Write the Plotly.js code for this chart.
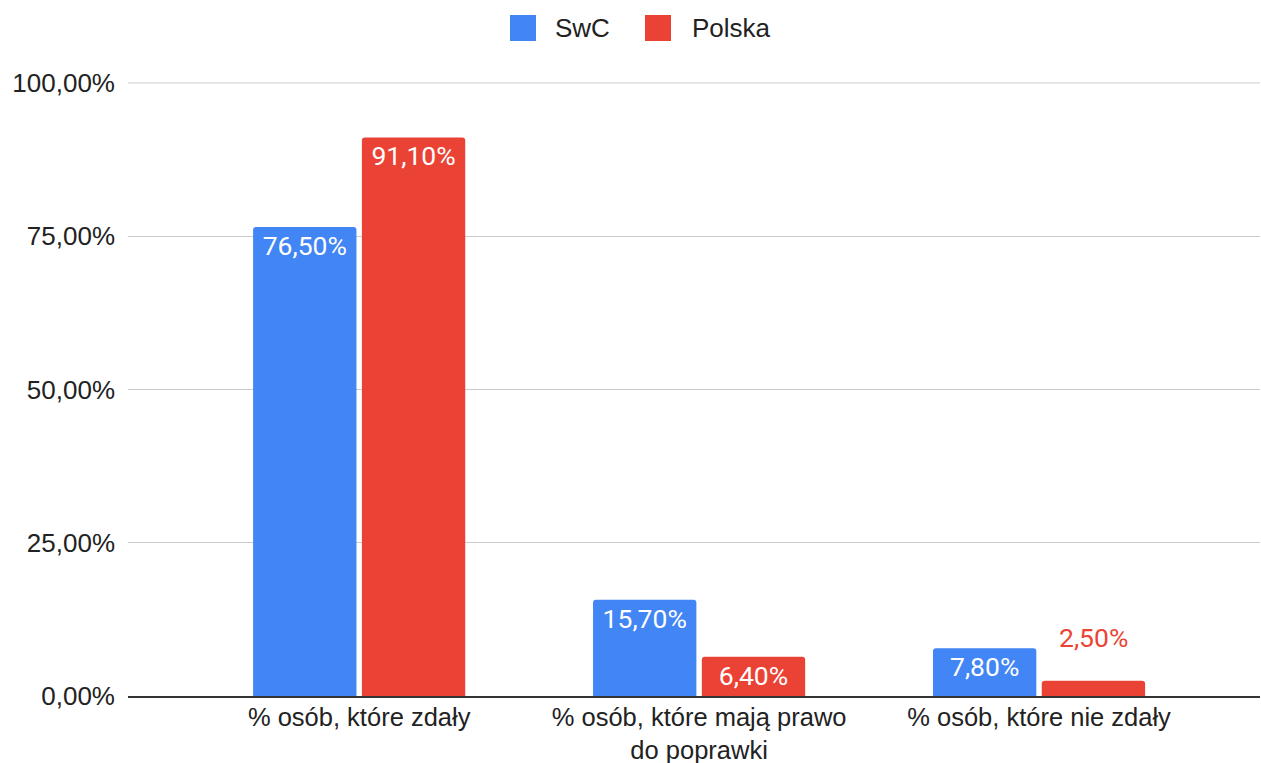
<!DOCTYPE html>
<html>
<head>
<meta charset="utf-8">
<script src="https://cdn.plot.ly/plotly-3.0.1.min.js"></script>
<style>html,body{margin:0;padding:0;background:#fff;}#chart{width:1261px;height:763px;}</style>
</head>
<body>
<div id="chart"></div>
<script>
const categories = ["% osób, które zdały", "% osób, które mają prawo<br>do poprawki", "% osób, które nie zdały"];
const seriesNames = ["SwC", "Polska"];
const swcValues = [76.5, 15.7, 7.8];
const polskaValues = [91.1, 6.4, 2.5];
const yTickVals = [0, 25, 50, 75, 100];
const yTickText = ["0,00%", "25,00%", "50,00%", "75,00%", "100,00%"];

const colors = ["#4285F4", "#EA4335"];
const allValues = [swcValues, polskaValues];
const W = 1261, H = 763;
const M = {l: 128, r: 1, t: 82, b: 67};
const BARGAP = 0.36;
const FONT = 'Liberation Sans, Arial, sans-serif';
const SMALL = 5; // bars shorter than this get the label above
const yMax = yTickVals[yTickVals.length - 1];

const traces = allValues.map((vals, i) => ({
  type: 'bar',
  name: seriesNames[i],
  x: categories,
  y: vals,
  marker: {color: colors[i], cornerradius: 3},
  texttemplate: '%{y:.2f}%',
  textposition: vals.map(v => v < SMALL ? 'none' : 'inside'),
  insidetextanchor: 'end',
  constraintext: 'none',
  insidetextfont: {family: 'Roboto', size: 26.5, color: '#ffffff'},
  hoverinfo: 'none',
  showlegend: false
}));

// Labels for short bars, placed above the bar
const nTr = allValues.length;
const barW = (1 - BARGAP) / nTr;
const annotations = [];
allValues.forEach((vals, i) => {
  vals.forEach((v, j) => {
    if (v < SMALL) {
      annotations.push({
        x: j - (1 - BARGAP) / 2 + barW * (i + 0.5), xref: 'x',
        y: v, yref: 'y', yanchor: 'middle', yshift: 43,
        text: v.toFixed(2).replace('.', ',') + '%', showarrow: false,
        font: {family: 'Roboto', size: 26.5, color: colors[i]}
      });
    }
  });
});

// Custom legend (large squares)
const pw = W - M.l - M.r, ph = H - M.t - M.b;
const px2x = p => (p - M.l) / pw;
const px2y = p => (H - M.b - p) / ph;
const legendItems = [{sq: 510, tx: 553}, {sq: 645, tx: 690}];
const shapes = [];
legendItems.forEach((it, i) => {
  shapes.push({type: 'rect', xref: 'paper', yref: 'paper',
    x0: px2x(it.sq), x1: px2x(it.sq + 26), y0: px2y(41), y1: px2y(15),
    fillcolor: colors[i], line: {width: 0}});
  annotations.push({xref: 'paper', yref: 'paper', x: px2x(it.tx), y: px2y(28),
    xanchor: 'left', yanchor: 'middle', text: seriesNames[i], showarrow: false,
    font: {family: FONT, size: 26, color: '#222'}});
});
// top gridline (Plotly drops gridlines at the very edge of the range)
shapes.push({type: 'line', xref: 'paper', yref: 'y', x0: 0, x1: 1, y0: yMax, y1: yMax,
  line: {color: '#cccccc', width: 1}, layer: 'below'});

const layout = {
  width: W, height: H,
  margin: Object.assign({autoexpand: false}, M),
  paper_bgcolor: '#ffffff', plot_bgcolor: '#ffffff',
  separators: ', ',
  font: {family: FONT, size: 26, color: '#222'},
  barmode: 'group',
  bargap: BARGAP,
  bargroupgap: 0.05,
  showlegend: false,
  annotations: annotations,
  shapes: shapes,
  xaxis: {
    type: 'category',
    range: [-0.68, 2.65],
    showgrid: false,
    showline: true, linecolor: '#333', linewidth: 2,
    ticks: '',
    ticklabelstandoff: -3,
    tickfont: {family: FONT, size: 25.5, color: '#222'},
    fixedrange: true
  },
  yaxis: {
    range: [0, 100.15],
    tickvals: yTickVals,
    ticktext: yTickText,
    showgrid: true, gridcolor: '#cccccc', gridwidth: 1,
    zeroline: false,
    ticks: '',
    ticklabelstandoff: 12,
    tickfont: {family: FONT, size: 26, color: '#222'},
    fixedrange: true
  }
};

Plotly.newPlot('chart', traces, layout, {displayModeBar: false, staticPlot: true});
</script>
</body>
</html>
